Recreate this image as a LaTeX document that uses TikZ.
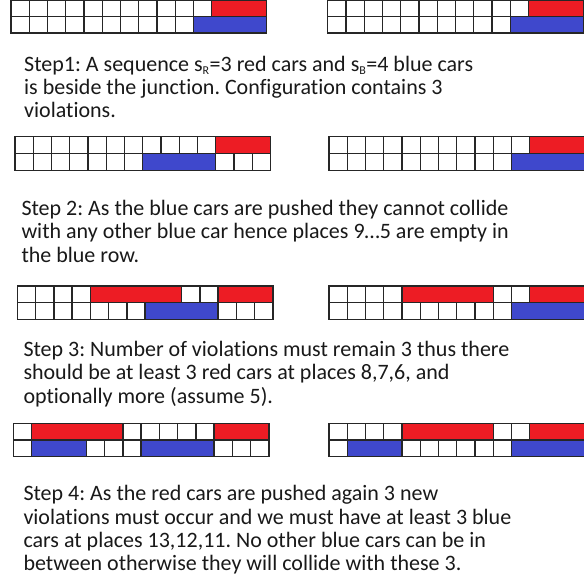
\documentclass[tikz,border=0pt]{standalone}
\usepackage{fontspec}
\setmainfont{Carlito}[Ligatures=NoCommon]
\frenchspacing
\definecolor{carred}{HTML}{ED1C24}
\definecolor{carblue}{HTML}{3F48CC}
\def\cw{18.25}
\tikzset{
  cell/.style={draw=black!85,line width=1.4pt,fill=white},
  redcar/.style={draw=black!85,line width=1.4pt,fill=carred},
  bluecar/.style={draw=black!85,line width=1.4pt,fill=carblue},
  steptext/.style={anchor=base west,align=left,inner sep=0pt,text=black!90,
    font=\fontsize{22}{23.2}\selectfont}
}
\newcommand\carsgrid[5]{%
  \foreach \i in {0,...,13}{%
    \draw[cell] (#1+\i*\cw,#2) rectangle ++(\cw,#3);
    \draw[cell] (#1+\i*\cw,#2+#3) rectangle ++(\cw,#3);
  }
  \foreach \a/\b in {#4}{\draw[redcar] (#1+\a*\cw,#2) rectangle (#1+\b*\cw+\cw,#2+#3);}
  \foreach \a/\b in {#5}{\draw[bluecar] (#1+\a*\cw,#2+#3) rectangle (#1+\b*\cw+\cw,#2+2*#3);}
}
\newcommand\sub[1]{\textsubscript{\fontsize{12}{12}\selectfont #1}}
\begin{document}
\begin{tikzpicture}[x=1pt,y=-1pt]
\fill[white] (0,0) rectangle (583,588);
\useasboundingbox (0,0) rectangle (583,588);
% row 1
\carsgrid{11}{0}{16.6}{11/13}{10/13}
\carsgrid{327.7}{0}{16.6}{11/13}{10/13}
% base anchor = baseline of last line
\node[steptext] (s1) at (24,117.7) {Step1: A sequence s\sub{R}=3 red cars and s\sub{B}=4 blue cars\\is beside the junction. Configuration contains 3\\violations.};
% row 2
\carsgrid{15}{136.7}{17}{11/13}{7/10}
\carsgrid{329}{136.7}{17}{11/13}{10/13}
\node[steptext] (s2) at (21.3,262) {Step 2: As the blue cars are pushed they cannot collide\\with any other blue car hence places 9\dots5 are empty in\\the blue row.};
% row 3
\carsgrid{17.3}{286}{16.7}{4/8,11/13}{7/10}
\carsgrid{329}{286}{16.7}{4/8,11/13}{10/13}
\node[steptext] (s3) at (23.3,403) {Step 3: Number of violations must remain 3 thus there\\should be at least 3 red cars at places 8,7,6, and\\optionally more (assume 5).};
% row 4
\carsgrid{13.3}{423.3}{16.7}{1/5,11/13}{1/3,7/10}
\carsgrid{329}{423.3}{16.7}{4/8,11/13}{1/3,10/13}
\node[steptext] (s4) at (23.3,570.5) {Step 4: As the red cars are pushed again 3 new\\violations must occur and we must have at least 3 blue\\cars at places 13,12,11. No other blue cars can be in\\between otherwise they will collide with these 3.};
\end{tikzpicture}
\end{document}
